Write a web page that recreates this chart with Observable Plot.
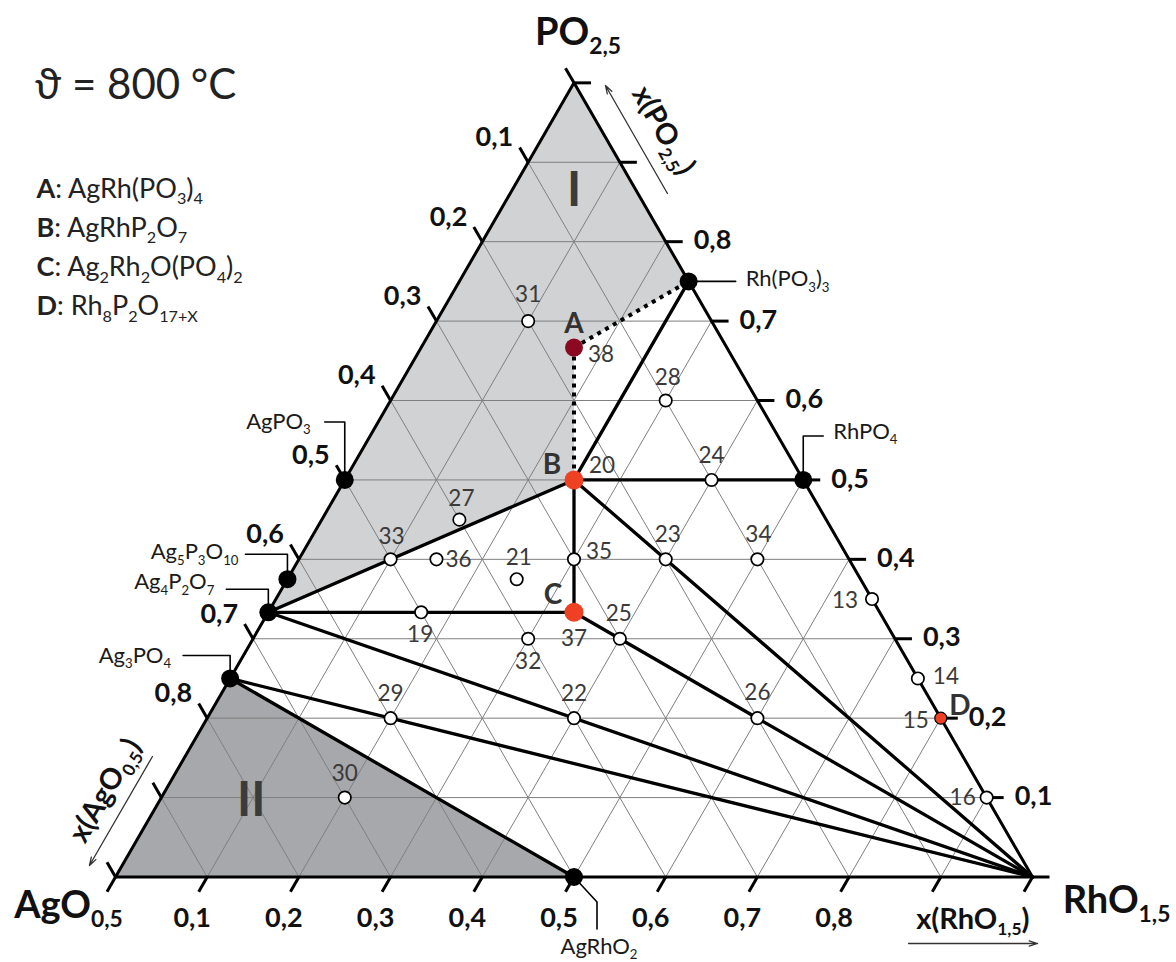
<!DOCTYPE html>
<html><head><meta charset="utf-8">
<script src="https://cdn.jsdelivr.net/npm/d3@7"></script>
<script src="https://cdn.jsdelivr.net/npm/@observablehq/plot@0.6"></script>
<style>
html,body{margin:0;padding:0;background:#fff;}
#chart svg{display:block;}
</style></head><body><div id="chart"></div>
<script>
// ---------------- data ----------------
const temperature = "ϑ = 800 °C";
const vertexNames = ["AgO0.5", "RhO1.5", "PO2.5"];
const vertexLabels = ["AgO_{0,5}", "RhO_{1,5}", "PO_{2,5}"];
const vertexR = [0, 1, 0];
const vertexP = [0, 0, 1];

const compoundNames = ["AgPO3", "Ag5P3O10", "Ag4P2O7", "Ag3PO4", "AgRhO2", "Rh(PO3)3", "RhPO4"];
const compoundLabels = ["AgPO_{3}", "Ag_{5}P_{3}O_{10}", "Ag_{4}P_{2}O_{7}", "Ag_{3}PO_{4}", "AgRhO_{2}", "Rh(PO_{3})_{3}", "RhPO_{4}"];
const compoundR = [0, 0, 0, 0, 0.5, 0.25, 0.5];
const compoundP = [0.5, 0.375, 1/3, 0.25, 0, 0.75, 0.5];

const phaseNames = ["A", "B", "C", "D"];
const phaseFormulas = ["AgRh(PO_{3})_{4}", "AgRhP_{2}O_{7}", "Ag_{2}Rh_{2}O(PO_{4})_{2}", "Rh_{8}P_{2}O_{17+X}"];
const phaseR = [1/6, 0.25, 1/3, 0.8];
const phaseP = [2/3, 0.5, 1/3, 0.2];
const phaseSample = [38, 20, 37, 15];

const sampleNo = [31, 28, 24, 27, 33, 36, 21, 35, 23, 34, 13, 19, 25, 32, 14, 16, 29, 22, 26, 30];
const sampleR  = [0.1, 0.3, 0.4, 0.15, 0.1, 0.15, 0.25, 0.3, 0.4, 0.5, 0.65, 1/6, 0.4, 0.3, 0.75, 0.9, 0.2, 0.4, 0.6, 0.2];
const sampleP  = [0.7, 0.6, 0.5, 0.45, 0.4, 0.4, 0.375, 0.4, 0.4, 0.4, 0.35, 1/3, 0.3, 0.3, 0.25, 0.1, 0.2, 0.2, 0.2, 0.1];

const tieLines = [["Ag4P2O7","B"],["Ag4P2O7","C"],["Ag4P2O7","RhO1.5"],["Ag3PO4","RhO1.5"],["Ag3PO4","AgRhO2"],
                  ["B","C"],["B","RhPO4"],["B","Rh(PO3)3"],["B","RhO1.5"],["C","RhO1.5"]];
const dottedLines = [["A","B"],["A","Rh(PO3)3"]];
const regionI = ["PO2.5","Rh(PO3)3","A","B","Ag4P2O7"];
const regionII = ["AgO0.5","Ag3PO4","AgRhO2"];
const regionLabels = ["I","II"];
const regionLabelR = [0.068, 0.1];
const regionLabelP = [0.864, 0.096];

const tickValues = [0, 0.1, 0.2, 0.3, 0.4, 0.5, 0.6, 0.7, 0.8, 0.9, 1];
const tickLabels = ["0,1","0,2","0,3","0,4","0,5","0,6","0,7","0,8"];
const axisTitles = ["x(AgO_{0,5})", "x(RhO_{1,5})", "x(PO_{2,5})"];

// ---------------- layout / style ----------------
const W = 1176, HT = 962;
const K = 917, OX = 115, OY = 876.5;   // px per unit side, AgO corner pixel
const H = Math.sqrt(3) / 2;
const TICK = 17;
const FONT = "Lato, 'Open Sans', 'DejaVu Sans', sans-serif";

const pos = new Map();
vertexNames.forEach((n, i) => pos.set(n, {r: vertexR[i], p: vertexP[i]}));
compoundNames.forEach((n, i) => pos.set(n, {r: compoundR[i], p: compoundP[i]}));
phaseNames.forEach((n, i) => pos.set(n, {r: phaseR[i], p: phaseP[i]}));
const cart = ({r, p}) => [r + p / 2, p * H];
const at = (name) => cart(pos.get(name));
const shift = ([X, Y], [dx, dy]) => [X + dx / K, Y - dy / K];

const sampleLabelOffset = {31:[0,-26],28:[2,-23],24:[0,-24],27:[2,-21],33:[1,-23],36:[22,0],21:[2,-21],35:[25,-8],
  23:[2,-25],34:[1,-25],13:[-27,2],19:[-1,23],25:[-1,-25],32:[0,23],14:[28,-2],16:[-24,0],29:[0,-24],22:[0,-24],26:[0,-25],30:[0,-24]};
const phaseLetterOffset = {A:[0,-24], B:[-22,-15], C:[-21,-17], D:[19,-12]};
const phaseSampleOffset = {A:[27,7], B:[28,-14], C:[0,27], D:[-25,3]};
const leaderPaths = {
  "AgPO3": [[0,0],[0,-58],[-20,-58]],
  "Ag5P3O10": [[0,0],[0,-25],[-42,-25]],
  "Ag4P2O7": [[0,0],[0,-23],[-42,-23]],
  "Ag3PO4": [[0,0],[0,-23],[-47,-23]],
  "AgRhO2": [[0,0],[23,25],[23,52]],
  "Rh(PO3)3": [[0,0],[47,0]],
  "RhPO4": [[0,0],[0,-44],[20,-44]]
};
const leaderText = {
  "AgPO3": [-34,-58,"end"], "Ag5P3O10": [-49,-27,"end"], "Ag4P2O7": [-54,-30,"end"], "Ag3PO4": [-59,-23,"end"],
  "AgRhO2": [25,70,"middle"], "Rh(PO3)3": [57,-2,"start"], "RhPO4": [30,-48,"start"]
};

// ---------------- derived geometry ----------------
const inner = tickValues.filter(v => v > 0 && v < 1);
const grid = [];
for (const v of inner) {
  grid.push([cart({r:0, p:v}), cart({r:1-v, p:v})]);
  grid.push([cart({r:v, p:0}), cart({r:v, p:1-v})]);
  grid.push([cart({r:0, p:1-v}), cart({r:1-v, p:0})]);
}
const ticks = [];
const tickLab = [];
tickValues.forEach((v, i) => {
  const L = cart({r:0, p:1-v}), Le = shift(L, [-0.5*TICK, -H*TICK]);
  const R = cart({r:1-v, p:v}),  Re = shift(R, [TICK, 0]);
  const B = cart({r:v, p:0}),    Be = shift(B, [-0.5*TICK, H*TICK]);
  ticks.push([L, Le], [R, Re], [B, Be]);
  if (i >= 1 && i <= 8) {
    tickLab.push({side:"left", pt: Le, t: tickLabels[i-1]});
    tickLab.push({side:"right", pt: Re, t: tickLabels[i-1]});
    tickLab.push({side:"bottom", pt: Be, t: tickLabels[i-1]});
  }
});
const tri = ["AgO0.5","RhO1.5","PO2.5","AgO0.5"].map(at);
const seg = (pairs) => pairs.map(([a, b]) => [at(a), at(b)]);
const leaders = [];
compoundNames.forEach(n => leaderPaths[n].forEach(o => leaders.push({n, pt: shift(at(n), o)})));
const compLab = compoundNames.map((n, i) => ({n, t: compoundLabels[i], a: leaderText[n][2],
  pt: shift(at(n), leaderText[n])}));
const samples = sampleNo.map((n, i) => ({n, pt: cart({r: sampleR[i], p: sampleP[i]})}));
const phases = phaseNames.map((n, i) => ({n, s: phaseSample[i], pt: at(n)}));

const p9R = cart({r:0.1, p:0.9}), a9L = cart({r:0, p:0.1}), r9B = cart({r:0.9, p:0});
const titles = [
  {t: axisTitles[2], pt: shift(p9R, [43.6, -31.8]), rot: 60},
  {t: axisTitles[0], pt: shift(a9L, [-56, -7]), rot: -60}
];
const arrows = [
  [shift(p9R, [47.6, 31.2]), shift(p9R, [-14.4, -76.8])],
  [shift(a9L, [-8.9, -41.1]), shift(a9L, [-71.9, 67.9])],
  [shift(r9B, [-32.3, 66.5]), shift(r9B, [96.7, 66.5])]
];

const X = d => d[0], Y = d => d[1];
const link = (data, opts) => Plot.link(data, {x1: d => d[0][0], y1: d => d[0][1], x2: d => d[1][0], y2: d => d[1][1], ...opts});
const txt = (data, opts) => Plot.text(data, {x: d => d.pt[0], y: d => d.pt[1], ...opts});

const marks = [
  Plot.line(regionI.map(at), {x: X, y: Y, fill: "#d1d2d4", stroke: "none"}),
  Plot.line(regionII.map(at), {x: X, y: Y, fill: "#a7a8ab", stroke: "none"}),
  link(grid, {stroke: "#7f7f7f", strokeWidth: 1}),
  link(ticks, {stroke: "#000", strokeWidth: 3}),
  Plot.line(tri, {x: X, y: Y, stroke: "#000", strokeWidth: 3, strokeLinejoin: "miter"}),
  link(seg(tieLines), {stroke: "#000", strokeWidth: 3.3, strokeLinecap: "round"}),
  link(seg(dottedLines), {stroke: "#000", strokeWidth: 4, strokeDasharray: "4,5"}),
  Plot.line(leaders, {x: d => d.pt[0], y: d => d.pt[1], z: "n", stroke: "#000", strokeWidth: 1.6}),
  Plot.arrow(arrows, {x1: d => d[0][0], y1: d => d[0][1], x2: d => d[1][0], y2: d => d[1][1],
    stroke: "#333", strokeWidth: 1.3, headLength: 10, headAngle: 35}),
  Plot.dot(compoundNames.map(at), {x: X, y: Y, r: 9, fill: "#000"}),
  Plot.dot(samples, {x: d => d.pt[0], y: d => d.pt[1], r: 6.2, fill: "#fff", stroke: "#000", strokeWidth: 1.7}),
  Plot.dot(phases.filter(d => d.n === "A"), {x: d => d.pt[0], y: d => d.pt[1], r: 9, fill: "#8c0a21"}),
  Plot.dot(phases.filter(d => d.n === "B" || d.n === "C"), {x: d => d.pt[0], y: d => d.pt[1], r: 9.5, fill: "#ee4124"}),
  Plot.dot(phases.filter(d => d.n === "D"), {x: d => d.pt[0], y: d => d.pt[1], r: 6, fill: "#ee4124", stroke: "#000", strokeWidth: 1.2}),
  // region labels
  Plot.text(regionLabels.map((t, i) => ({t, pt: cart({r: regionLabelR[i], p: regionLabelP[i]})})),
    {x: d => d.pt[0], y: d => d.pt[1], text: "t", fontSize: 48, fontWeight: "bold", fill: "#3b3b3b"}),
  // sample numbers
  Plot.text(samples, {x: d => shift(d.pt, sampleLabelOffset[d.n])[0], y: d => shift(d.pt, sampleLabelOffset[d.n])[1],
    text: "n", fontSize: 22.5, fill: "#3a3a3a"}),
  Plot.text(phases, {x: d => shift(d.pt, phaseSampleOffset[d.n])[0], y: d => shift(d.pt, phaseSampleOffset[d.n])[1],
    text: "s", fontSize: 22.5, fill: "#3a3a3a"}),
  Plot.text(phases, {x: d => shift(d.pt, phaseLetterOffset[d.n])[0], y: d => shift(d.pt, phaseLetterOffset[d.n])[1],
    text: "n", fontSize: 28, fontWeight: "bold", fill: "#333"}),
  // compound labels
  ...["start", "end", "middle"].map(a => txt(compLab.filter(d => d.a === a), {text: "t", textAnchor: a, fontSize: 22, fill: "#1a1a1a"})),
  // tick labels
  txt(tickLab.filter(d => d.side === "left"), {text: "t", textAnchor: "end", dx: -6.5, dy: -10, fontSize: 27, fontWeight: "bold", fill: "#111"}),
  txt(tickLab.filter(d => d.side === "right"), {text: "t", textAnchor: "start", dx: 11, dy: -1, fontSize: 27, fontWeight: "bold", fill: "#111"}),
  txt(tickLab.filter(d => d.side === "bottom"), {text: "t", textAnchor: "middle", dx: -6.5, dy: 27, fontSize: 27, fontWeight: "bold", fill: "#111"}),
  // axis titles
  ...titles.map(d => txt([d], {text: "t", rotate: d.rot, fontSize: 29, fontWeight: "bold", fill: "#111"})),
  txt([{t: axisTitles[1], pt: shift(r9B, [32, 51.5])}], {text: "t", lineAnchor: "bottom", fontSize: 29, fontWeight: "bold", fill: "#111"}),
  // vertex labels
  txt([{t: vertexLabels[2], pt: shift(at("PO2.5"), [4, -37.5])}], {text: "t", lineAnchor: "bottom", fontSize: 38, fontWeight: "bold", fill: "#111"}),
  txt([{t: vertexLabels[0], pt: shift(at("AgO0.5"), [-47, 40.5])}], {text: "t", lineAnchor: "bottom", fontSize: 38, fontWeight: "bold", fill: "#111"}),
  txt([{t: vertexLabels[1], pt: shift(at("RhO1.5"), [84, 35.5])}], {text: "t", lineAnchor: "bottom", fontSize: 38, fontWeight: "bold", fill: "#111"}),
  // title and legend
  Plot.text([temperature], {frameAnchor: "top-left", dx: 34, dy: 98, lineAnchor: "bottom", textAnchor: "start", fontSize: 42, fill: "#222"}),
  ...phaseNames.map((n, i) => Plot.text([`!{${n}}: ${phaseFormulas[i]}`], {frameAnchor: "top-left", dx: 36, dy: 197 + i * 39.3,
    lineAnchor: "bottom", textAnchor: "start", fontSize: 27, fill: "#222"}))
];

const chart = Plot.plot({
  width: W, height: HT, margin: 0,
  x: {domain: [-OX / K, (W - OX) / K], axis: null},
  y: {domain: [(OY - HT) / K, OY / K], axis: null},
  style: {fontFamily: FONT, background: "#fff", overflow: "visible"},
  marks
});
document.getElementById("chart").appendChild(chart);

// rich text: _{sub} and !{bold}
const NS = "http://www.w3.org/2000/svg";
chart.querySelectorAll("text").forEach(t => {
  const s = t.textContent;
  if (!/[_!]\{/.test(s)) return;
  const fs = parseFloat(getComputedStyle(t).fontSize) || 16;
  t.textContent = "";
  let shifted = false;
  const add = (str, kind) => {
    if (!str) return;
    const ts = document.createElementNS(NS, "tspan");
    ts.textContent = str;
    if (kind === "sub") {
      ts.setAttribute("font-size", (fs * 0.6).toFixed(2));
      if (!shifted) { ts.setAttribute("dy", (fs * 0.24).toFixed(2)); shifted = true; }
    } else {
      if (shifted) { ts.setAttribute("dy", (-fs * 0.24).toFixed(2)); shifted = false; }
      if (kind === "bold") ts.setAttribute("font-weight", "bold");
    }
    t.appendChild(ts);
  };
  const re = /([_!])\{([^}]*)\}/g;
  let last = 0, m;
  while ((m = re.exec(s))) {
    add(s.slice(last, m.index), "plain");
    add(m[2], m[1] === "_" ? "sub" : "bold");
    last = re.lastIndex;
  }
  add(s.slice(last), "plain");
});
</script></body></html>
